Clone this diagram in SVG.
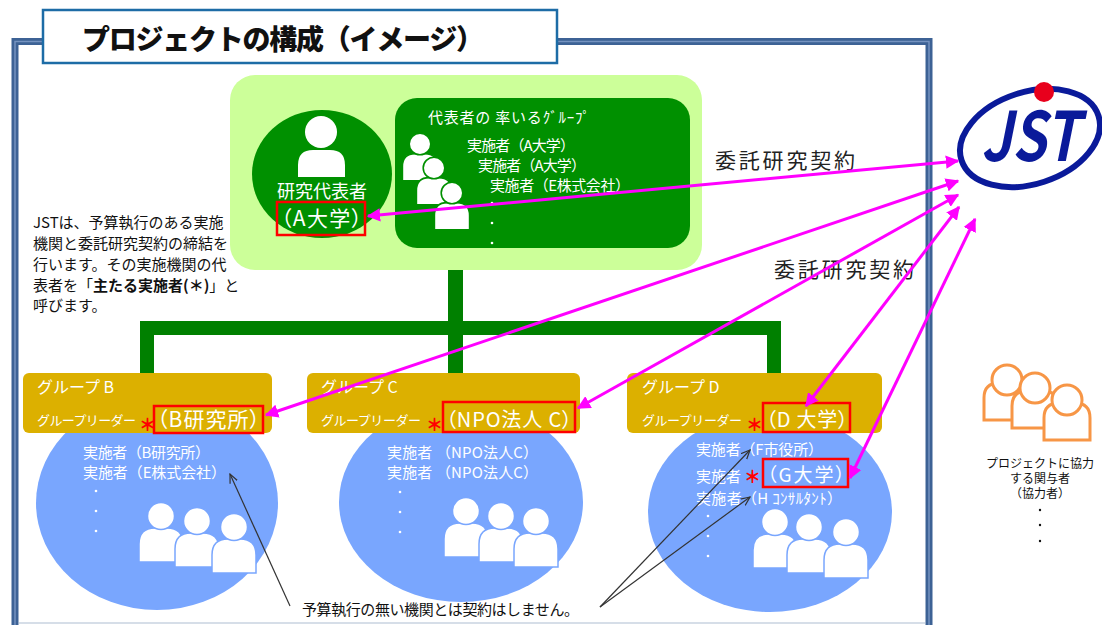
<svg xmlns="http://www.w3.org/2000/svg" xmlns:xlink="http://www.w3.org/1999/xlink" width="1102" height="625" viewBox="0 0 1102 625">
<style>
text{font-family:"Noto Sans CJK JP","Noto Sans",sans-serif;}
.w{fill:#ffffff;}
.k{fill:#111111;}
.p{font-feature-settings:"palt" 1;}
.lbl{fill:#222222;font-size:21px;}
.red{fill:none;stroke:#ff0000;stroke-width:2.5;}
.gbox{fill:#dcb000;}
.ell{fill:#79a6fe;}
.ast{fill:#ff0000;font-weight:900;}
.pink{fill:none;stroke:#ff00ff;stroke-width:3;marker-start:url(#ph);marker-end:url(#ph);}
.blk{fill:none;stroke:#333333;stroke-width:1.2;marker-end:url(#bh);}
.bar{fill:#008000;}
</style>
<defs>
<marker id="ph" viewBox="0 0 10 10" refX="9" refY="5" markerWidth="4.5" markerHeight="4.5" orient="auto-start-reverse">
<path d="M0,0 L10,5 L0,10 z" fill="#ff00ff"/>
</marker>
<marker id="bh" viewBox="0 0 10 10" refX="9" refY="5" markerWidth="10" markerHeight="10" markerUnits="userSpaceOnUse" orient="auto">
<path d="M0,1 L9,5 L0,9" fill="none" stroke="#333333" stroke-width="1.2"/>
</marker>
<g id="person">
<path d="M-22 46 V28 Q-22 12 -6 12 H6 Q22 12 22 28 V46 Z"/>
<circle cx="0" cy="0" r="13.5"/>
</g>
<g id="operson">
<path d="M-23 40 V18 Q-23 3 -8 3 H8 Q23 3 23 18 V40 Z"/>
<circle cx="0" cy="0" r="15"/>
</g>
</defs>

<g id="frame">
<rect x="15" y="41.5" width="914" height="620" fill="#ffffff" stroke="#3d6295" stroke-width="7"/>
<rect x="15" y="41.5" width="914" height="620" fill="none" stroke="#7593c0" stroke-width="1.5"/>
<line x1="19" y1="623" x2="925" y2="623" stroke="#c9d3e0" stroke-width="1.5"/>
</g>

<g id="title">
<rect x="43" y="10" width="514" height="53" fill="#ffffff" stroke="#1d6ca6" stroke-width="2.5"/>
<text x="82" y="50" font-size="28" font-weight="900" class="k" textLength="402">プロジェクトの構成（イメージ）</text>
</g>

<g id="connectors">
<rect class="bar" x="448" y="268" width="15" height="106"/>
<rect class="bar" x="140" y="321" width="641" height="14"/>
<rect class="bar" x="140" y="321" width="14" height="53"/>
<rect class="bar" x="767" y="321" width="14" height="53"/>
</g>

<g id="lead-group">
<rect x="230" y="75" width="472" height="195" rx="25" fill="#ccff99"/>
<ellipse cx="322" cy="174" rx="70" ry="64" fill="#009000"/>
<path d="M298 177 V165 Q298 150 313 150 H330 Q345 150 345 165 V177 Z" fill="#ffffff"/>
<circle cx="321" cy="132" r="16" fill="#ffffff"/>
<text x="322" y="198" font-size="18" class="w" text-anchor="middle">研究代表者</text>
<text x="281" y="226" font-size="21" class="w p" textLength="81">（A大学）</text>
<rect class="red" x="277" y="202" width="88" height="33"/>
<rect x="395" y="98" width="295" height="150" rx="22" fill="#009000"/>
<use xlink:href="#person" href="#person" transform="translate(420,144) scale(0.8)" fill="#ffffff" stroke="#009000" stroke-width="2"/>
<use xlink:href="#person" href="#person" transform="translate(434,168) scale(0.8)" fill="#ffffff" stroke="#009000" stroke-width="2"/>
<use xlink:href="#person" href="#person" transform="translate(452,193) scale(0.8)" fill="#ffffff" stroke="#009000" stroke-width="2"/>
<text x="428" y="123" font-size="15" class="w" textLength="162">代表者の 率いるｸﾞﾙｰﾌﾟ</text>
<text x="467" y="151" font-size="15" class="w" textLength="108">実施者（A大学）</text>
<text x="478" y="171" font-size="15" class="w" textLength="108">実施者（A大学）</text>
<text x="490" y="191" font-size="15" class="w" textLength="140">実施者（E株式会社）</text>
<circle cx="492" cy="203" r="1.3" fill="#ffffff"/>
<circle cx="492" cy="223" r="1.3" fill="#ffffff"/>
<circle cx="492" cy="243" r="1.3" fill="#ffffff"/>
</g>

<g id="explanation">
<text x="33" y="228" font-size="15" class="k">JSTは、予算執行のある実施</text>
<text x="33" y="249" font-size="15" class="k">機関と委託研究契約の締結を</text>
<text x="33" y="270" font-size="15" class="k">行います。その実施機関の代</text>
<text x="33" y="291" font-size="15" class="k">表者を「<tspan font-weight="bold">主たる実施者(＊)</tspan>」と</text>
<text x="33" y="311" font-size="15" class="k">呼びます。</text>
</g>

<g id="group-b">
<ellipse class="ell" cx="157" cy="503" rx="121" ry="107"/>
<rect class="gbox" x="23" y="373" width="249" height="60" rx="6"/>
<text x="37" y="393" font-size="16" class="w">グループ B</text>
<text x="37" y="425" font-size="13" class="w" textLength="99">グループリーダー</text>
<text x="139" y="431" font-size="17" class="ast">＊</text>
<text x="157" y="427" font-size="21" class="w p" textLength="103">（B研究所）</text>
<rect class="red" x="154" y="406" width="109" height="27"/>
<text x="83" y="458" font-size="15" class="w" textLength="127">実施者（B研究所）</text>
<text x="83" y="478" font-size="15" class="w" textLength="143">実施者（E株式会社）</text>
<circle cx="96" cy="491" r="1.3" fill="#ffffff"/>
<circle cx="96" cy="511" r="1.3" fill="#ffffff"/>
<circle cx="96" cy="531" r="1.3" fill="#ffffff"/>
<use xlink:href="#person" href="#person" transform="translate(161,516)" fill="#ffffff" stroke="#79a6fe" stroke-width="1.5"/>
<use xlink:href="#person" href="#person" transform="translate(197,521)" fill="#ffffff" stroke="#79a6fe" stroke-width="1.5"/>
<use xlink:href="#person" href="#person" transform="translate(234,527)" fill="#ffffff" stroke="#79a6fe" stroke-width="1.5"/>
</g>

<g id="group-c">
<ellipse class="ell" cx="461" cy="502" rx="122" ry="100"/>
<rect class="gbox" x="307" y="373" width="273" height="60" rx="6"/>
<text x="321" y="393" font-size="16" class="w">グループ C</text>
<text x="321" y="425" font-size="13" class="w" textLength="100">グループリーダー</text>
<text x="426" y="431" font-size="17" class="ast">＊</text>
<text x="446" y="427" font-size="20" class="w p" textLength="126">（NPO法人 C）</text>
<rect class="red" x="443" y="402" width="132" height="30"/>
<text x="387" y="458" font-size="15" class="w" textLength="151">実施者 （NPO法人C）</text>
<text x="387" y="478" font-size="15" class="w" textLength="151">実施者 （NPO法人C）</text>
<circle cx="400" cy="492" r="1.3" fill="#ffffff"/>
<circle cx="400" cy="512" r="1.3" fill="#ffffff"/>
<circle cx="400" cy="532" r="1.3" fill="#ffffff"/>
<use xlink:href="#person" href="#person" transform="translate(466,511)" fill="#ffffff" stroke="#79a6fe" stroke-width="1.5"/>
<use xlink:href="#person" href="#person" transform="translate(501,516)" fill="#ffffff" stroke="#79a6fe" stroke-width="1.5"/>
<use xlink:href="#person" href="#person" transform="translate(536,521)" fill="#ffffff" stroke="#79a6fe" stroke-width="1.5"/>
</g>

<g id="group-d">
<ellipse class="ell" cx="770" cy="512" rx="122" ry="100"/>
<rect class="gbox" x="627" y="373" width="255" height="60" rx="6"/>
<text x="642" y="393" font-size="16" class="w">グループ D</text>
<text x="642" y="425" font-size="13" class="w" textLength="100">グループリーダー</text>
<text x="746" y="431" font-size="17" class="ast">＊</text>
<text x="766" y="427" font-size="20" class="w p" textLength="82">（D 大学）</text>
<rect class="red" x="763" y="403" width="87" height="29"/>
<text x="696" y="455" font-size="15" class="w" textLength="127">実施者（F市役所）</text>
<text x="696" y="482" font-size="15" class="w">実施者</text>
<text x="744" y="483" font-size="17" class="ast">＊</text>
<text x="767" y="482" font-size="19" class="w p" textLength="78">（G大学）</text>
<rect class="red" x="763" y="459" width="85" height="28"/>
<text x="696" y="504" font-size="15" class="w" textLength="146">実施者（H ｺﾝｻﾙﾀﾝﾄ）</text>
<circle cx="708" cy="516" r="1.3" fill="#ffffff"/>
<circle cx="708" cy="536" r="1.3" fill="#ffffff"/>
<circle cx="708" cy="556" r="1.3" fill="#ffffff"/>
<use xlink:href="#person" href="#person" transform="translate(775,522)" fill="#ffffff" stroke="#79a6fe" stroke-width="1.5"/>
<use xlink:href="#person" href="#person" transform="translate(809,527)" fill="#ffffff" stroke="#79a6fe" stroke-width="1.5"/>
<use xlink:href="#person" href="#person" transform="translate(846,532)" fill="#ffffff" stroke="#79a6fe" stroke-width="1.5"/>
</g>

<g id="jst">
<ellipse cx="1030" cy="138" rx="72" ry="46" transform="rotate(-18 1030 138)" fill="#ffffff" stroke="#0a1a9a" stroke-width="6"/>
<circle cx="1044" cy="92" r="10" fill="#e8001c"/>
<text x="981" y="161" font-family="Liberation Sans, Arial, sans-serif" font-size="68" font-weight="bold" font-style="italic" fill="#0a1a9a" textLength="98" lengthAdjust="spacingAndGlyphs">JST</text>
</g>

<g id="cooperators">
<use xlink:href="#operson" href="#operson" transform="translate(1007,380)" fill="#ffffff" stroke="#f79646" stroke-width="3"/>
<use xlink:href="#operson" href="#operson" transform="translate(1035,388)" fill="#ffffff" stroke="#f79646" stroke-width="3"/>
<use xlink:href="#operson" href="#operson" transform="translate(1067,400)" fill="#ffffff" stroke="#f79646" stroke-width="3"/>
<text x="1040" y="468" font-size="12" class="k" text-anchor="middle">プロジェクトに協力</text>
<text x="1040" y="483" font-size="12" class="k" text-anchor="middle">する関与者</text>
<text x="1040" y="498" font-size="12" class="k" text-anchor="middle">（協力者）</text>
<circle cx="1040" cy="510" r="1.2" fill="#111111"/>
<circle cx="1040" cy="525" r="1.2" fill="#111111"/>
<circle cx="1040" cy="541" r="1.2" fill="#111111"/>
</g>

<g id="contract-labels">
<text x="715" y="168" class="lbl" textLength="140">委託研究契約</text>
<text x="774" y="277" class="lbl" textLength="140">委託研究契約</text>
</g>

<g id="note">
<text x="302" y="615" font-size="15" class="k" textLength="277">予算執行の無い機関とは契約はしません。</text>
</g>

<g id="arrows">
<line class="pink" x1="958" y1="161" x2="368" y2="216"/>
<line class="pink" x1="958" y1="181" x2="266" y2="415"/>
<line class="pink" x1="958" y1="195" x2="578" y2="408"/>
<line class="pink" x1="959" y1="207" x2="806" y2="406"/>
<line class="pink" x1="975" y1="219" x2="850" y2="478"/>
<line class="blk" x1="290" y1="606" x2="230" y2="474"/>
<line class="blk" x1="600" y1="607" x2="750" y2="450"/>
<line class="blk" x1="600" y1="607" x2="750" y2="497"/>
</g>
</svg>
